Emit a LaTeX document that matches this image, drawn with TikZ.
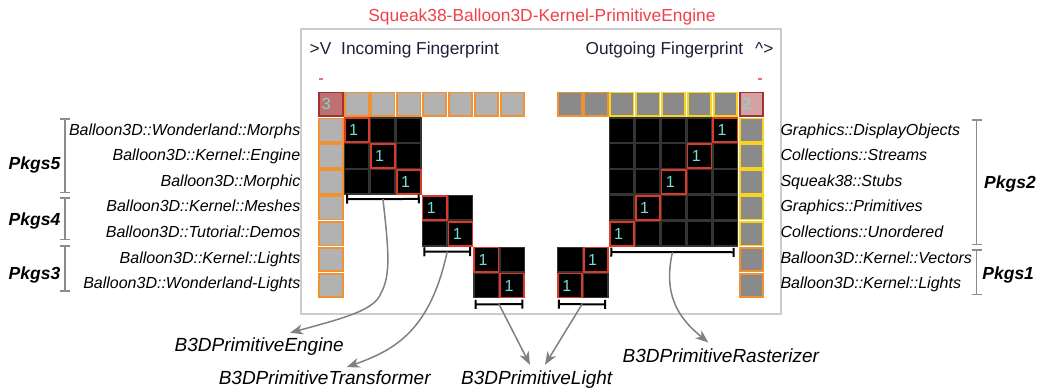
\documentclass[tikz,border=0pt]{standalone}
\usepackage{fontspec}
\setmainfont{Liberation Sans}
\usetikzlibrary{arrows.meta,calc}
\definecolor{frameg}{RGB}{204,204,204}
\definecolor{cellLg}{RGB}{178,178,178}
\definecolor{cellRg}{RGB}{138,138,138}
\definecolor{orng}{RGB}{240,146,50}
\definecolor{yllw}{RGB}{248,212,30}
\definecolor{diagred}{RGB}{224,56,40}
\definecolor{gridg}{RGB}{52,52,52}
\definecolor{onecol}{RGB}{120,222,210}
\definecolor{titlered}{RGB}{240,64,76}
\definecolor{hdrtext}{RGB}{30,30,60}
\definecolor{arrowg}{RGB}{128,128,128}
\definecolor{brkg}{RGB}{140,140,140}
\definecolor{cornA}{RGB}{192,112,112}
\definecolor{cornB}{RGB}{212,162,162}
\definecolor{cornD}{RGB}{162,50,50}
\definecolor{markred}{RGB}{240,110,110}
\tikzset{
  cellbase/.style={minimum width=23.4pt, minimum height=23.4pt, line width=1.8pt,
    inner xsep=4pt, inner ysep=0pt, outer sep=0pt, text width=15.4pt, align=left,
    text height=11.5pt, text depth=0pt, font=\fontsize{16}{16}\selectfont, text=onecol},
  fpL/.style={cellbase, draw=orng, fill=cellLg},
  fpR/.style={cellbase, draw=orng, fill=cellRg},
  fpRy/.style={cellbase, draw=yllw, fill=cellRg},
  mcell/.style={cellbase, draw=gridg, fill=black, line width=1.4pt, minimum width=24.5pt, minimum height=24.5pt},
  dcell/.style={cellbase, draw=diagred, fill=black, minimum width=24.1pt, minimum height=24.1pt},
  cornL/.style={cellbase, draw=cornD, fill=cornA, inner xsep=2.5pt, text width=18.4pt},
  cornR/.style={cellbase, draw=cornD, fill=cornB, inner xsep=2.5pt, text width=18.4pt},
  framebox/.style={draw=frameg, line width=1.8pt},
  ttl/.style={font=\fontsize{17.4}{20}\selectfont, text=titlered, inner sep=0pt, anchor=base},
  hdr/.style={font=\fontsize{17.3}{20}\selectfont, text=hdrtext, inner sep=0pt, anchor=base west},
  lblL/.style={font=\fontsize{16}{19}\selectfont\itshape, inner sep=0pt, anchor=base east},
  lblR/.style={font=\fontsize{16}{19}\selectfont\itshape, inner sep=0pt, anchor=base west},
  pk/.style={font=\fontsize{17.5}{20}\selectfont\bfseries\itshape, inner sep=0pt, anchor=base west},
  blab/.style={font=\fontsize{19}{22}\selectfont\itshape, inner sep=0pt, text height=14pt, text depth=4pt, anchor=base},
  brk/.style={draw=black, line width=2pt, {Bar[width=9pt]}-{Bar[width=9pt]}},
  pkb/.style={draw=brkg, line width=1.5pt, {Bar[width=10pt]}-{Bar[width=10pt]}},
  arr/.style={draw=arrowg, line width=1.5pt, -{Stealth[length=13pt,width=10pt,inset=4pt]}}
}
\begin{document}
\begin{tikzpicture}[x=1pt,y=-1pt]
\useasboundingbox (0,0) rectangle (1037,389);
\draw[framebox] (301,29) rectangle (781,314);
\node[ttl] (title) at (542,21) {Squeak38-Balloon3D-Kernel-PrimitiveEngine};
\node[hdr] (hv) at (309.5,54.2) {\textgreater V};
\node[hdr] (hin) at (341,54.2) {Incoming Fingerprint};
\node[hdr, anchor=base east] (hout) at (743.5,54.2) {Outgoing Fingerprint};
\node[hdr] (hca) at (755,54.2) {\textasciicircum\textgreater};
\fill[markred] (319,78.4) rectangle (323,79.8);
\fill[markred] (757.5,78.4) rectangle (762,79.8);

% left fingerprint
\node[cornL] (L00) at (331,104.2) {3};
\foreach \i in {1,...,7} \node[fpL] (L0\i) at ({331+25.9*\i},104.2) {};
\foreach \j in {1,...,7} \node[fpL] (L\j0) at (331,{104.2+25.9*\j}) {};
\foreach \a/\b in {1/3,4/5,6/7}{
  \foreach \r in {\a,...,\b}{
    \foreach \c in {\a,...,\b}{
      \ifnum\r=\c\relax
      \else
        \node[mcell] (L\r\c) at ({331+25.9*\c},{104.2+25.9*\r}) {};
      \fi
    }
  }
}
\foreach \c in {1,...,7}
  \node[dcell] (L\c\c) at ({331+25.9*\c},{104.2+25.9*\c}) {1};

% right fingerprint
\foreach \i in {0,1} \node[fpR] (R0\i) at ({570+25.9*\i},104.2) {};
\foreach \i in {2,...,6} \node[fpRy] (R0\i) at ({570+25.9*\i},104.2) {};
\node[cornR] (R07) at ({570+25.9*7},104.2) {2};
\foreach \j in {1,...,5} \node[fpRy] (R\j7) at ({570+25.9*7},{104.2+25.9*\j}) {};
\foreach \j in {6,7} \node[fpR] (R\j7) at ({570+25.9*7},{104.2+25.9*\j}) {};
\foreach \r/\ca/\cb in {1/2/6,2/2/6,3/2/6,4/2/6,5/2/6,6/0/1,7/0/1}{
  \foreach \c in {\ca,...,\cb}{
    \pgfmathtruncatemacro\s{\r+\c}
    \ifnum\s=7\relax
    \else
      \node[mcell] (R\r\c) at ({570+25.9*\c},{104.2+25.9*\r}) {};
    \fi
  }
}
\foreach \r in {1,...,7}{
  \pgfmathtruncatemacro\c{7-\r}
  \node[dcell] (R\r\c) at ({570+25.9*\c},{104.2+25.9*\r}) {1};
}

% brackets under blocks
\draw[brk] ($(L31.south west)+(1.5,5)$) -- coordinate (b1) ($(L33.south east)+(-1,5)$);
\draw[brk] ($(L54.south west)+(1,5.8)$) -- coordinate (b2) ($(L55.south east)+(-1.5,5.8)$);
\draw[brk] ($(L76.south west)+(0.5,6.6)$) -- coordinate (b3) ($(L77.south east)+(-1,6.6)$);
\draw[brk] ($(R52.south west)+(0.5,6.3)$) -- coordinate (b4) ($(R56.south east)+(-3,6.3)$);
\draw[brk] ($(R70.south west)+(0,6.6)$) -- coordinate (b5) ($(R71.south east)+(-2,6.6)$);

% row labels
\foreach \t [count=\j from 0] in {Balloon3D::Wonderland::Morphs,Balloon3D::Kernel::Engine,Balloon3D::Morphic,Balloon3D::Kernel::Meshes,Balloon3D::Tutorial::Demos,Balloon3D::Kernel::Lights,Balloon3D::Wonderland-Lights}
  \node[lblL] (ll\j) at (300.5,{135+25.6*\j}) {\t};
\foreach \t [count=\j from 0] in {Graphics::DisplayObjects,Collections::Streams,Squeak38::Stubs,Graphics::Primitives,Collections::Unordered,Balloon3D::Kernel::Vectors,Balloon3D::Kernel::Lights}
  \node[lblR] (rl\j) at (780.3,{135+25.6*\j}) {\t};

% package brackets
\draw[pkb] (65,118) -- (65,193);
\draw[pkb] (65,197) -- (65,240);
\draw[pkb] (65,245) -- (65,291.5);
\draw[pkb] (976.7,119) -- (976.7,245);
\draw[pkb] (976.7,249) -- (976.7,295);
\node[pk] (p5) at (8.5,169.4) {Pkgs5};
\node[pk] (p4) at (8.5,225.4) {Pkgs4};
\node[pk] (p3) at (8.5,279.4) {Pkgs3};
\node[pk] (p2) at (984,188.1) {Pkgs2};
\node[pk] (p1) at (982.2,279.4) {Pkgs1};

% bottom labels
\node[blab] (lE) at (259.2,351) {B3DPrimitiveEngine};
\node[blab] (lT) at (324.7,384.8) {B3DPrimitiveTransformer};
\node[blab] (lL) at (536.7,384.8) {B3DPrimitiveLight};
\node[blab] (lR) at (720.9,362.3) {B3DPrimitiveRasterizer};

% arrows
\draw[arr] (b1) .. controls +(5.7,51) and +(10,-18) .. (381,293)
  .. controls +(-6,17) and +(55,-15) .. ($(lE.north)+(30.8,-4)$);
\draw[arr] (b2) .. controls +(-17,79) and +(48,-17) .. ($(lT.north)+(22,-3.5)$);
\draw[arr] (b3) -- ($(lL.north)+(-6.7,-5.8)$);
\draw[arr] (b5) -- ($(lL.north)+(8.3,-5.8)$);
\draw[arr] (b4) .. controls +(-10,45) and +(-28,-23) .. ($(lR.north)+(-12.6,-5.6)$);
\end{tikzpicture}
\end{document}
